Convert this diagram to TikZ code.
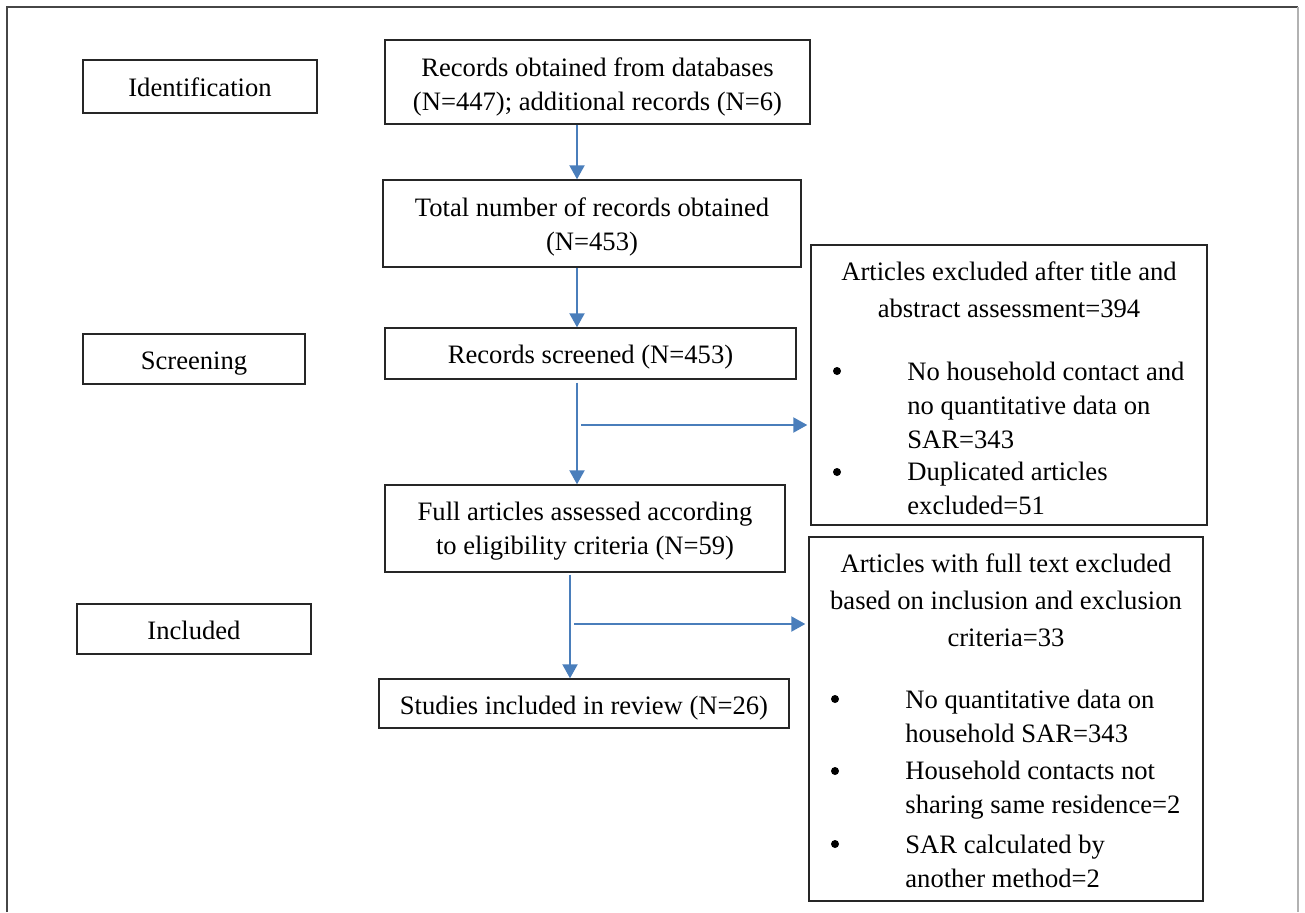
\documentclass[tikz,border=0pt]{standalone}
\usepackage{fontspec}
\setmainfont{Liberation Serif}
\usetikzlibrary{arrows.meta}

\definecolor{flowblue}{RGB}{74,126,187}
\definecolor{framegrey}{RGB}{70,70,70}

\begin{document}
\begin{tikzpicture}[x=0.5pt,y=-0.5pt,
    box/.style={draw=black!85, line width=0.7pt, inner sep=0pt},
    txt/.style={inner sep=0pt, align=center, font=\fontsize{13.3}{17}\selectfont,
      execute at begin node=\strut, execute at end node=\strut},
    flow/.style={draw=flowblue, line width=1pt, -{Triangle[length=7pt,width=7.5pt]}},
    item/.style={anchor=west, inner sep=0pt, align=left, font=\fontsize{13.3}{17}\selectfont},
    head/.style={inner sep=0pt, align=center, font=\fontsize{13.3}{18.5}\selectfont},
    dot/.style={circle, fill=black, inner sep=0pt, minimum size=4pt}]

      \useasboundingbox (0,0) rectangle (1305,912);

      % outer frame, open at the bottom
      \draw[framegrey, line width=1.2pt] (7,912) -- (7,7) -- (1298,7);
      \draw[black!30, line width=0.6pt] (1298,7) -- (1298,912);

      % stage labels
      \node[box, minimum width=117pt, minimum height=26.5pt] (ident) at (200,86.5) {};
      \node[txt, yshift=-1.5pt] (identtext) at (ident) {Identification};
      \node[box, minimum width=111pt, minimum height=25pt] (screen) at (194,359) {};
      \node[txt, yshift=-1.75pt] (screentext) at (screen) {Screening};
      \node[box, minimum width=117pt, minimum height=25pt] (incl) at (194,629) {};
      \node[txt, yshift=-1.75pt] (incltext) at (incl) {Included};

      % main flow
      \node[box, minimum width=212.5pt, minimum height=42pt] (rec) at (597.5,82) {};
      \node[txt, yshift=-3.5pt] (rectext) at (rec)
        {Records obtained from databases\\(N=447); additional records (N=6)};
      \node[box, minimum width=209pt, minimum height=43.5pt] (tot) at (592,223.5) {};
      \node[txt, yshift=-3pt] (tottext) at (tot)
        {Total number of records obtained\\(N=453)};
      \node[box, minimum width=205.5pt, minimum height=25.5pt] (scr) at (590.5,353.5) {};
      \node[txt, yshift=-1.75pt] (scrtext) at (scr) {Records screened (N=453)};
      \node[box, minimum width=200pt, minimum height=43.5pt] (full) at (585,528.5) {};
      \node[txt, yshift=-2.5pt] (fulltext) at (full)
        {Full articles assessed according\\to eligibility criteria (N=59)};
      \node[box, minimum width=205pt, minimum height=24.5pt] (stud) at (584,703.5) {};
      \node[txt, yshift=-2pt] (studtext) at (stud) {Studies included in review (N=26)};

      % exclusion boxes
      \node[box, minimum width=198pt, minimum height=140pt] (exa) at (1009,385) {};
      \node[head] (exahead) at (1009,289.5) {Articles excluded after title and\\abstract assessment=394};
      \node[dot] (dota1) at (837,371) {};
      \node[item] (exa1) at (907,405) {No household contact and\\no quantitative data on\\SAR=343};
      \node[dot] (dota2) at (837,472) {};
      \node[item] (exa2) at (907,488.5) {Duplicated articles\\excluded=51};

      \node[box, minimum width=197pt, minimum height=182pt] (exb) at (1006,719) {};
      \node[head] (exbhead) at (1006,600) {Articles with full text excluded\\based on inclusion and exclusion\\criteria=33};
      \node[dot] (dotb1) at (835,699) {};
      \node[item] (exb1) at (905,716) {No quantitative data on\\household SAR=343};
      \node[dot] (dotb2) at (835,771) {};
      \node[item] (exb2) at (905,790) {Household contacts not\\sharing same residence=2};
      \node[dot] (dotb3) at (835,844) {};
      \node[item] (exb3) at (905,861.5) {SAR calculated by\\another method=2};

      % connectors
      \coordinate (spine) at (577,0);
      \coordinate (spinelow) at (570,0);
      \coordinate (brancha) at (581,425);
      \coordinate (branchb) at (574,624);

      \draw[flow] (rec.south -| spine) -- (tot.north -| spine);
      \draw[flow] (tot.south -| spine) -- (scr.north -| spine);
      \draw[flow, shorten <=1.5pt] (scr.south -| spine) -- (full.north -| spine);
      \draw[flow, shorten <=1pt] (full.south -| spinelow) -- (stud.north -| spinelow);
      \draw[flow, shorten >=1.5pt] (brancha) -- (brancha -| exa.west);
      \draw[flow, shorten >=1.5pt] (branchb) -- (branchb -| exb.west);

\end{tikzpicture}
\end{document}
